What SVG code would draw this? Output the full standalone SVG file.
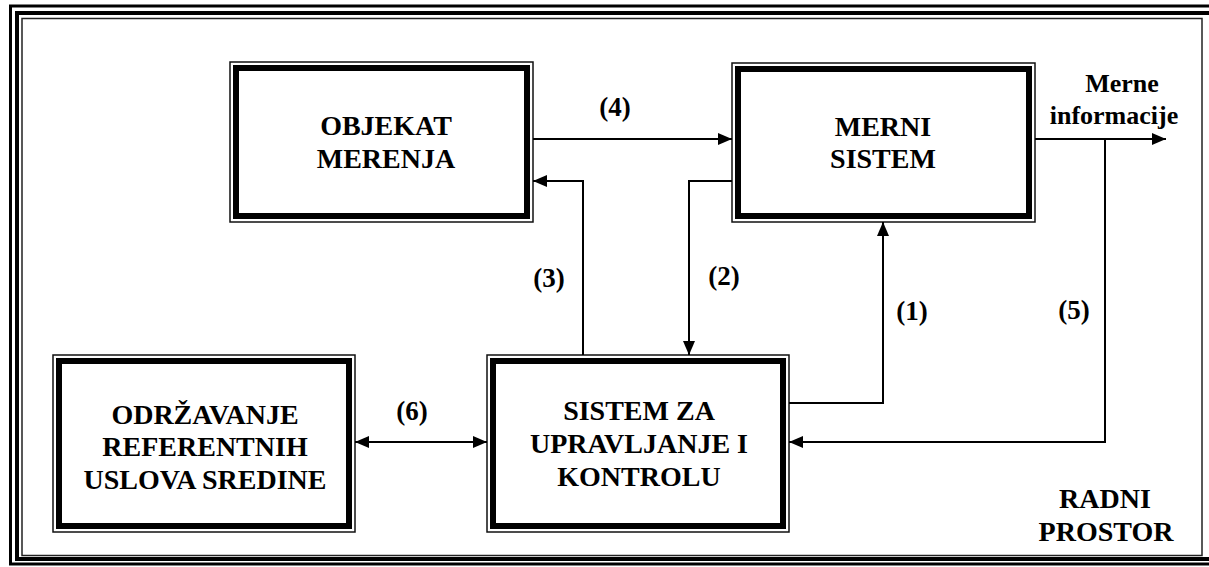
<svg xmlns="http://www.w3.org/2000/svg" width="1209" height="567" viewBox="0 0 1209 567">
<style>
.t{font-family:'Liberation Serif','Times New Roman',serif;font-weight:700;font-size:28px;fill:#000;text-anchor:middle}
.l{font-size:27px}
.m{font-size:26px}
.thin{fill:none;stroke:#111;stroke-width:1.5}
.thick{fill:none;stroke:#000;stroke-width:6}
.c{fill:none;stroke:#000;stroke-width:2}
</style>
<defs>
<marker id="ah" markerUnits="userSpaceOnUse" markerWidth="14" markerHeight="12" viewBox="0 0 14 12" refX="14" refY="6" orient="auto-start-reverse">
<path d="M0,0 L14,6 L0,12 Z" fill="#000"/>
</marker>
</defs>
<rect width="1209" height="567" fill="#fff"/>
<g id="frame">
<rect x="10.5" y="6" width="1300" height="558" fill="none" stroke="#000" stroke-width="3"/>
<rect x="17" y="13" width="1300" height="546" fill="none" stroke="#000" stroke-width="4"/>
<rect x="22" y="18.5" width="1180" height="537" fill="none" stroke="#222" stroke-width="1.5"/>
</g>
<g id="node-objekat">
<rect class="thin" x="230" y="62" width="303" height="160"/>
<rect class="thick" x="236" y="68" width="291" height="148"/>
<text class="t" x="386" y="135">OBJEKAT</text>
<text class="t" x="386" y="168">MERENJA</text>
</g>
<g id="node-merni">
<rect class="thin" x="732" y="63" width="303" height="159"/>
<rect class="thick" x="738" y="69" width="291" height="147"/>
<text class="t" x="883" y="136">MERNI</text>
<text class="t" x="883" y="168">SISTEM</text>
</g>
<g id="node-sistem">
<rect class="thin" x="487" y="355" width="302" height="177"/>
<rect class="thick" x="493" y="361" width="290" height="165"/>
<text class="t" x="639" y="420">SISTEM ZA</text>
<text class="t" x="639" y="453">UPRAVLJANJE I</text>
<text class="t" x="639" y="486">KONTROLU</text>
</g>
<g id="node-odrzavanje">
<rect class="thin" x="53" y="355" width="302" height="177"/>
<rect class="thick" x="59" y="361" width="290" height="165"/>
<text class="t" x="205" y="424">ODRŽAVANJE</text>
<text class="t" x="205" y="456">REFERENTNIH</text>
<text class="t" x="205" y="489">USLOVA SREDINE</text>
</g>
<g id="connectors">
<path class="c" d="M533,139 H732" marker-end="url(#ah)"/>
<path class="c" d="M583,355 V181 H533" marker-end="url(#ah)"/>
<path class="c" d="M732,181 H689 V355" marker-end="url(#ah)"/>
<path class="c" d="M789,403 H883 V222" marker-end="url(#ah)"/>
<path class="c" d="M1035,139 H1166" marker-end="url(#ah)"/>
<path class="c" d="M1105,139 V442 H789" marker-end="url(#ah)"/>
<path class="c" d="M355,442 H487" marker-start="url(#ah)" marker-end="url(#ah)"/>
</g>
<g id="labels">
<text class="t l" x="615" y="116">(4)</text>
<text class="t l" x="549" y="287">(3)</text>
<text class="t l" x="724" y="285">(2)</text>
<text class="t l" x="912" y="320">(1)</text>
<text class="t l" x="1074" y="319">(5)</text>
<text class="t l" x="412" y="420">(6)</text>
<text class="t m" x="1122" y="92">Merne</text>
<text class="t m" x="1114" y="124">informacije</text>
<text class="t" x="1105" y="508">RADNI</text>
<text class="t" x="1106" y="541">PROSTOR</text>
</g>
</svg>
